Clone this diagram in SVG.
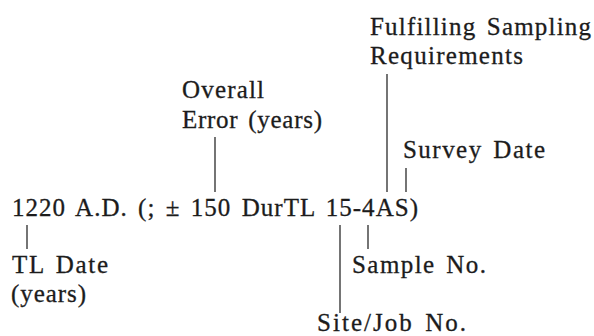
<svg xmlns="http://www.w3.org/2000/svg" width="594" height="336" viewBox="0 0 594 336">
  <style>
    text { font-family: "Liberation Serif", "Times New Roman", serif; font-size: 25px; fill: #1c1c1c; stroke: #1c1c1c; stroke-width: 0.3; word-spacing: 3px; }
    .lead { stroke: #2a2a2a; stroke-width: 1.3; fill: none; }
  </style>
  <rect width="594" height="336" fill="#ffffff"/>

  <!-- the annotated date string -->
  <g id="date-string">
    <text x="12" y="216" textLength="406" lengthAdjust="spacing">1220 A.D. (; ± 150 DurTL 15-4AS)</text>
  </g>

  <g id="overall-error">
    <text x="182" y="98" textLength="82" lengthAdjust="spacing">Overall</text>
    <text x="182" y="128" textLength="140" lengthAdjust="spacing">Error (years)</text>
  </g>

  <g id="sampling-requirements">
    <text x="370" y="35" textLength="221" lengthAdjust="spacing">Fulfilling Sampling</text>
    <text x="370" y="64" textLength="153" lengthAdjust="spacing">Requirements</text>
  </g>

  <g id="survey-date">
    <text x="403" y="158" textLength="142" lengthAdjust="spacing">Survey Date</text>
  </g>

  <g id="tl-date">
    <text x="12" y="273" textLength="96" lengthAdjust="spacing">TL Date</text>
    <text x="11" y="302" textLength="75" lengthAdjust="spacing">(years)</text>
  </g>

  <g id="sample-no">
    <text x="352" y="273" textLength="134" lengthAdjust="spacing">Sample No.</text>
  </g>

  <g id="site-job-no">
    <text x="317" y="331" textLength="149" lengthAdjust="spacing">Site/Job No.</text>
  </g>

  <!-- leader lines from each label to its part of the string -->
  <g id="connectors">
    <line class="lead" x1="215" y1="137" x2="215" y2="192"/>
    <line class="lead" x1="387" y1="74" x2="387" y2="192"/>
    <line class="lead" x1="406" y1="168" x2="406" y2="192"/>
    <line class="lead" x1="27" y1="225" x2="27" y2="249"/>
    <line class="lead" x1="368" y1="225" x2="368" y2="249"/>
    <line class="lead" x1="340" y1="225" x2="340" y2="313"/>
  </g>
</svg>
